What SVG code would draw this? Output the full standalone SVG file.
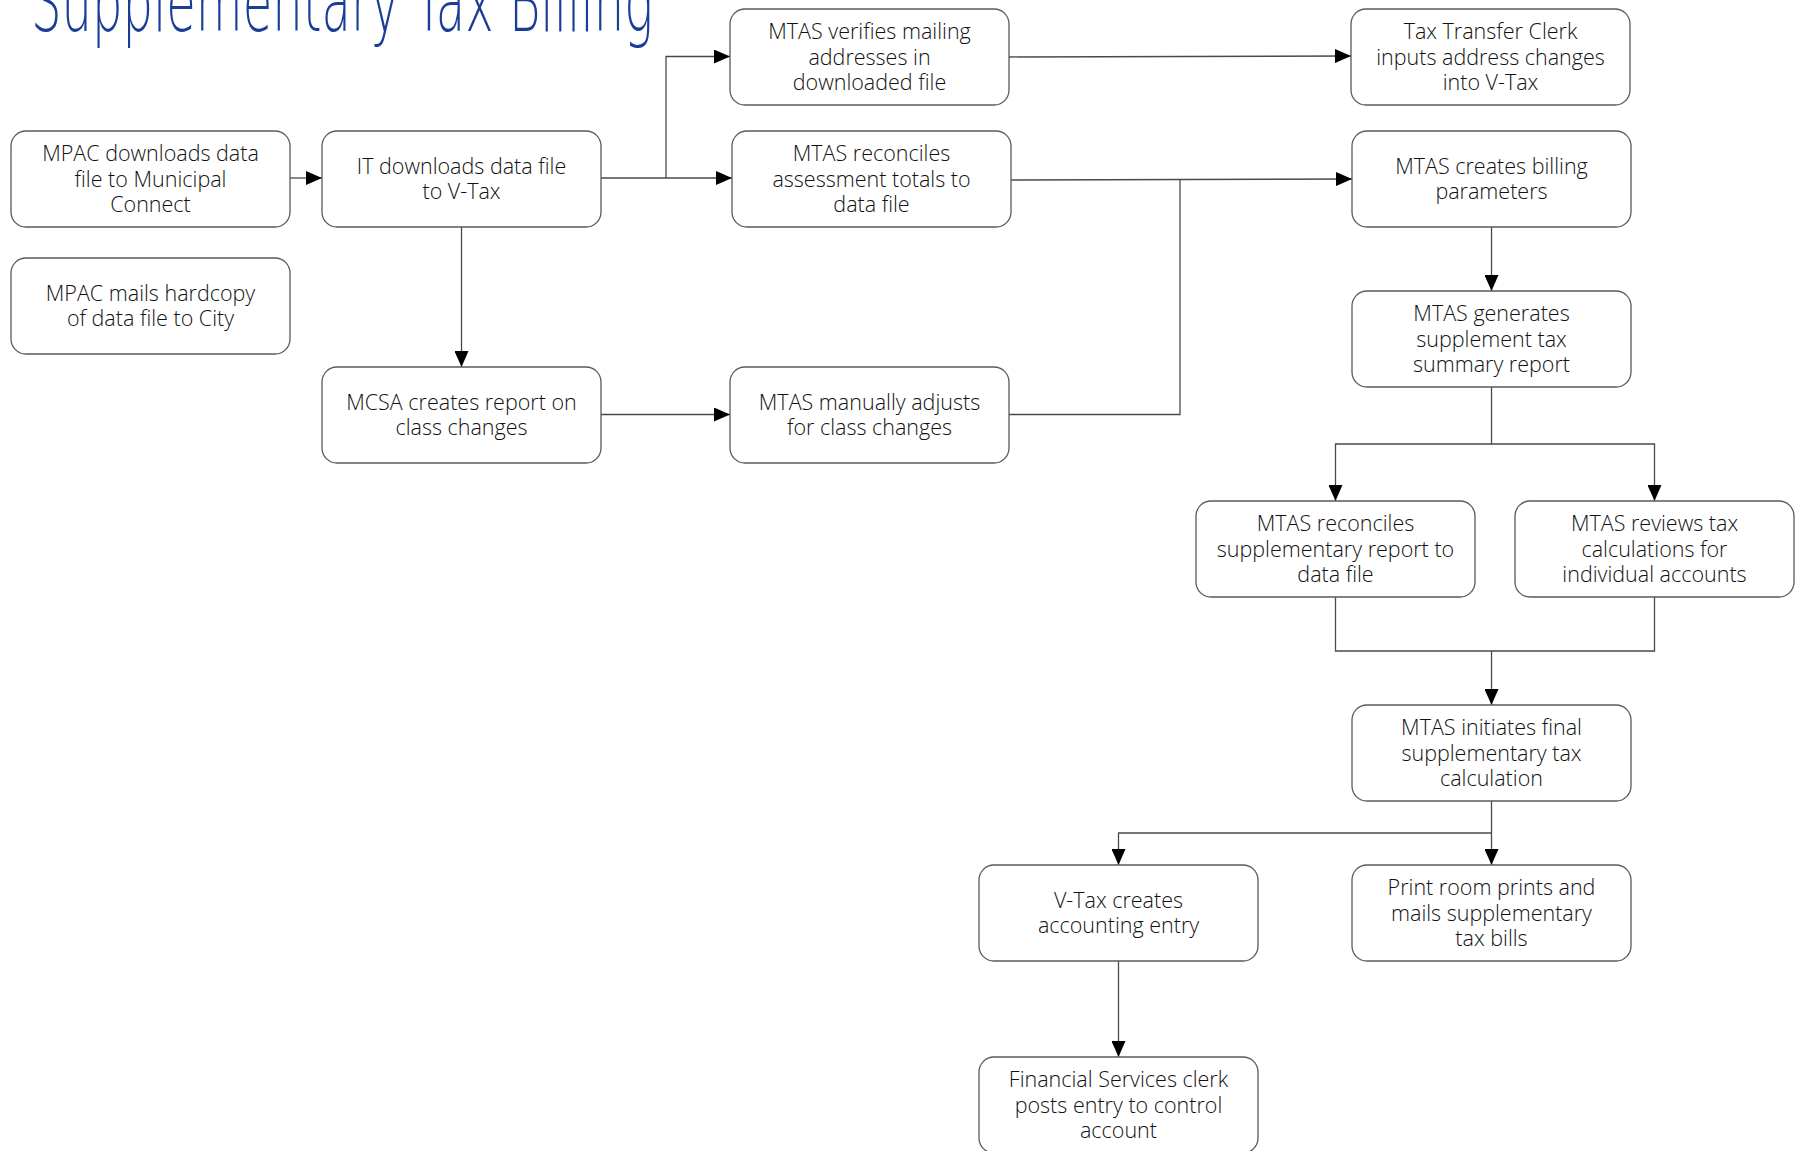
<svg xmlns="http://www.w3.org/2000/svg" width="1797" height="1151" viewBox="0 0 1797 1151">
<defs>
<style>
.box{fill:#fff;stroke:#5a5a5a;stroke-width:1.3}
.lbl{font-family:"Open Sans","Liberation Sans",sans-serif;font-weight:300;font-size:21.5px;fill:#111;text-anchor:middle}
.con{fill:none;stroke:#4a4a4a;stroke-width:1.3}
.title{font-family:"DejaVu Sans","Liberation Sans",sans-serif;font-weight:200;font-size:82px;fill:#1a3d97}
</style>
<marker id="arr" markerUnits="userSpaceOnUse" markerWidth="16" markerHeight="14" refX="16" refY="7" orient="auto">
<path d="M0,0 L16,7 L0,14 z" fill="#000"/>
</marker>
</defs>
<rect width="1797" height="1151" fill="#fff"/>
<text class="title" x="31" y="31" textLength="622" lengthAdjust="spacingAndGlyphs">Supplementary Tax Billing</text>

<g id="connectors">
<path class="con" d="M290,178 H322" marker-end="url(#arr)"/>
<path class="con" d="M601,178 H732" marker-end="url(#arr)"/>
<path class="con" d="M666,178 V56.5 H730" marker-end="url(#arr)"/>
<path class="con" d="M461.5,227 V367" marker-end="url(#arr)"/>
<path class="con" d="M601,414.5 H730" marker-end="url(#arr)"/>
<path class="con" d="M1009,57 L1351,56" marker-end="url(#arr)"/>
<path class="con" d="M1011,180 L1352,179" marker-end="url(#arr)"/>
<path class="con" d="M1009,414.5 H1180 V179.5"/>
<path class="con" d="M1491.5,227 V291" marker-end="url(#arr)"/>
<path class="con" d="M1491.5,387 V444 H1335.5 V501" marker-end="url(#arr)"/>
<path class="con" d="M1491.5,444 H1654.5 V501" marker-end="url(#arr)"/>
<path class="con" d="M1335.5,597 V651 H1654.5 V597"/>
<path class="con" d="M1491.5,651 V705" marker-end="url(#arr)"/>
<path class="con" d="M1491.5,801 V865" marker-end="url(#arr)"/>
<path class="con" d="M1491.5,833 H1118.5 V865" marker-end="url(#arr)"/>
<path class="con" d="M1118.5,961 V1057" marker-end="url(#arr)"/>
</g>

<g id="n1"><rect class="box" x="11" y="131" width="279" height="96" rx="15"/>
<text class="lbl"><tspan x="150.5" y="161">MPAC downloads data</tspan><tspan x="150.5" y="186.5">file to Municipal</tspan><tspan x="150.5" y="212">Connect</tspan></text></g>
<g id="n2"><rect class="box" x="11" y="258" width="279" height="96" rx="15"/>
<text class="lbl"><tspan x="150.5" y="300.5">MPAC mails hardcopy</tspan><tspan x="150.5" y="326">of data file to City</tspan></text></g>
<g id="n3"><rect class="box" x="322" y="131" width="279" height="96" rx="15"/>
<text class="lbl"><tspan x="461.5" y="173.5">IT downloads data file</tspan><tspan x="461.5" y="199">to V-Tax</tspan></text></g>
<g id="n4"><rect class="box" x="322" y="367" width="279" height="96" rx="15"/>
<text class="lbl"><tspan x="461.5" y="409.5">MCSA creates report on</tspan><tspan x="461.5" y="435">class changes</tspan></text></g>
<g id="n5"><rect class="box" x="730" y="9" width="279" height="96" rx="15"/>
<text class="lbl"><tspan x="869.5" y="39">MTAS verifies mailing</tspan><tspan x="869.5" y="64.5">addresses in</tspan><tspan x="869.5" y="90">downloaded file</tspan></text></g>
<g id="n6"><rect class="box" x="732" y="131" width="279" height="96" rx="15"/>
<text class="lbl"><tspan x="871.5" y="161">MTAS reconciles</tspan><tspan x="871.5" y="186.5">assessment totals to</tspan><tspan x="871.5" y="212">data file</tspan></text></g>
<g id="n7"><rect class="box" x="730" y="367" width="279" height="96" rx="15"/>
<text class="lbl"><tspan x="869.5" y="409.5">MTAS manually adjusts</tspan><tspan x="869.5" y="435">for class changes</tspan></text></g>
<g id="n8"><rect class="box" x="1351" y="9" width="279" height="96" rx="15"/>
<text class="lbl"><tspan x="1490.5" y="39">Tax Transfer Clerk</tspan><tspan x="1490.5" y="64.5">inputs address changes</tspan><tspan x="1490.5" y="90">into V-Tax</tspan></text></g>
<g id="n9"><rect class="box" x="1352" y="131" width="279" height="96" rx="15"/>
<text class="lbl"><tspan x="1491.5" y="173.5">MTAS creates billing</tspan><tspan x="1491.5" y="199">parameters</tspan></text></g>
<g id="n10"><rect class="box" x="1352" y="291" width="279" height="96" rx="15"/>
<text class="lbl"><tspan x="1491.5" y="321">MTAS generates</tspan><tspan x="1491.5" y="346.5">supplement tax</tspan><tspan x="1491.5" y="372">summary report</tspan></text></g>
<g id="n11"><rect class="box" x="1196" y="501" width="279" height="96" rx="15"/>
<text class="lbl"><tspan x="1335.5" y="531">MTAS reconciles</tspan><tspan x="1335.5" y="556.5">supplementary report to</tspan><tspan x="1335.5" y="582">data file</tspan></text></g>
<g id="n12"><rect class="box" x="1515" y="501" width="279" height="96" rx="15"/>
<text class="lbl"><tspan x="1654.5" y="531">MTAS reviews tax</tspan><tspan x="1654.5" y="556.5">calculations for</tspan><tspan x="1654.5" y="582">individual accounts</tspan></text></g>
<g id="n13"><rect class="box" x="1352" y="705" width="279" height="96" rx="15"/>
<text class="lbl"><tspan x="1491.5" y="735">MTAS initiates final</tspan><tspan x="1491.5" y="760.5">supplementary tax</tspan><tspan x="1491.5" y="786">calculation</tspan></text></g>
<g id="n14"><rect class="box" x="979" y="865" width="279" height="96" rx="15"/>
<text class="lbl"><tspan x="1118.5" y="907.5">V-Tax creates</tspan><tspan x="1118.5" y="933">accounting entry</tspan></text></g>
<g id="n15"><rect class="box" x="1352" y="865" width="279" height="96" rx="15"/>
<text class="lbl"><tspan x="1491.5" y="895">Print room prints and</tspan><tspan x="1491.5" y="920.5">mails supplementary</tspan><tspan x="1491.5" y="946">tax bills</tspan></text></g>
<g id="n16"><rect class="box" x="979" y="1057" width="279" height="96" rx="15"/>
<text class="lbl"><tspan x="1118.5" y="1087">Financial Services clerk</tspan><tspan x="1118.5" y="1112.5">posts entry to control</tspan><tspan x="1118.5" y="1138">account</tspan></text></g>
</svg>
